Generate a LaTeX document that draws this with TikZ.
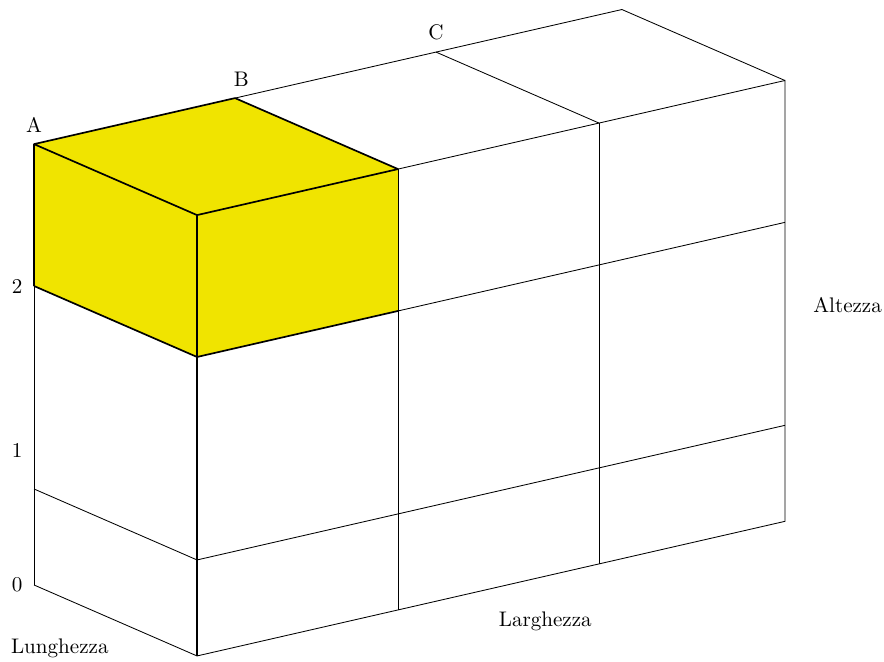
\documentclass[tikz,border=0pt]{standalone}
\usepackage{tikz}
\usetikzlibrary{positioning}

\definecolor{giallo}{RGB}{240,228,0}

\begin{document}
\begin{tikzpicture}[
    x={(3.35cm,0.767cm)},
    y={(0cm,3.383cm)},
    z={(2.717cm,-1.183cm)},
    every node/.style={font=\normalsize},
    griglia/.style={draw, thin},
    cubo/.style={draw, thick, line join=round},
    faccia/.style={fill=giallo}
]

\useasboundingbox (-0.567cm,-1.283cm) rectangle (14.167cm,9.75cm);

% Vertici
\coordinate (O) at (0,0,0);
\coordinate (A) at (0,2.172,0);
\coordinate (B) at (1,2.172,0);
\coordinate (C) at (2,2.172,0);

% Cubetto giallo
\fill[faccia] (A) -- (B) -- (1,2.172,1) -- (0,2.172,1) -- cycle;
\fill[faccia] (0,1.473,0) -- (A) -- (0,2.172,1) -- (0,1.473,1) -- cycle;
\fill[faccia] (0,1.473,1) -- (1,1.473,1) -- (1,2.172,1) -- (0,2.172,1) -- cycle;

% Faccia frontale
\draw[griglia] (0,0,1) -- (2.925,0,1) -- (2.925,2.172,1) -- (1,2.172,1);
\draw[griglia] (0,0.473,1) -- (2.925,0.473,1);
\draw[griglia] (1,1.473,1) -- (2.925,1.473,1);
\draw[griglia] (1,0,1) -- (1,2.172,1);
\draw[griglia] (2,0,1) -- (2,2.172,1);

% Faccia laterale
\draw[griglia] (O) -- (A);
\draw[griglia] (O) -- (0,0,1);
\draw[griglia] (0,0.473,0) -- (0,0.473,1);

% Faccia superiore
\draw[griglia] (B) -- (2.925,2.172,0) -- (2.925,2.172,1);
\draw[griglia] (C) -- (2,2.172,1);

% Spigoli del cubetto
\draw[cubo] (0,1.473,0) -- (A) -- (B) -- (1,2.172,1) -- (0,2.172,1) -- (A);
\draw[cubo] (0,0,1) -- (0,2.172,1);
\draw[cubo] (0,1.473,0) -- (0,1.473,1) -- (1,1.473,1);

% Etichette
\node[above=2pt] (lblA) at (A) {A};
\node[above=2pt, xshift=3pt] (lblB) at (B) {B};
\node[above=2pt] (lblC) at (C) {C};
\node[left=2pt] (lbl2) at (0,1.473,0) {2};
\node[left=2pt] (lbl1) at (0,0.665,0) {1};
\node[left=2pt] (lbl0) at (O) {0};
\node[xshift=0.43cm, yshift=-1.05cm] (lung) at (O) {Lunghezza};
\node[xshift=0.78cm, yshift=-0.57cm] (larg) at (1.5,0,1) {Larghezza};
\node[right=0.35cm] (alt) at (2.925,1.066,1) {Altezza};

\end{tikzpicture}
\end{document}
